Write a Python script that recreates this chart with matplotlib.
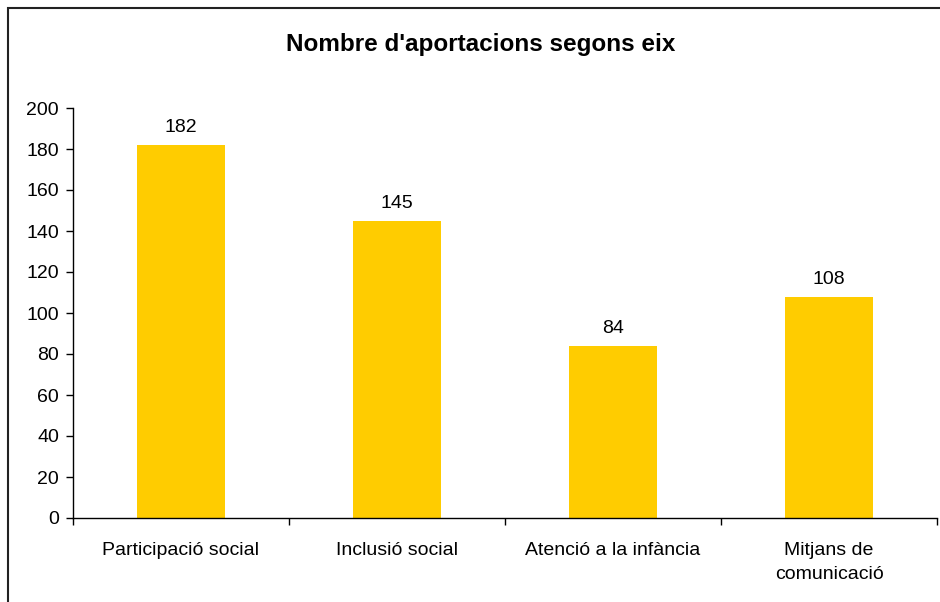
import matplotlib.pyplot as plt
from matplotlib.patches import Rectangle

# dades
categories = ["Participació social", "Inclusió social", "Atenció a la infància", "Mitjans de\ncomunicació"]
values = [182, 145, 84, 108]
title = "Nombre d'aportacions segons eix"

plt.rcParams['font.family'] = ['Liberation Sans', 'DejaVu Sans']

fig = plt.figure(figsize=(9.4, 6.02), dpi=100)
W, H = 940, 602

# marc exterior (retallat a la dreta i a baix)
fig.patches.append(Rectangle((8 / W, -0.05), 1.2, 1 - 8 / H + 0.05,
                             transform=fig.transFigure, fill=False,
                             edgecolor='#222222', linewidth=1.5))

ax = fig.add_axes([73 / W, 1 - 518 / H, (937 - 73) / W, (518 - 108) / H])

x = list(range(len(categories)))
bars = ax.bar(x, values, width=0.41, color='#FFCC00', edgecolor='none')

for xi, v in zip(x, values):
    ax.annotate(f'{v}', xy=(xi, v), xytext=(0, 6.5), textcoords='offset points',
                ha='center', va='bottom', fontsize=14)

ax.set_xlim(-0.5, len(categories) - 0.5)
ax.set_ylim(0, 200)
ax.set_yticks(range(0, 201, 20))

# marques de l'eix x als límits entre categories
ax.set_xticks([i - 0.5 for i in range(len(categories) + 1)])
ax.set_xticklabels([])
ax.set_xticks(x, minor=True)
ax.set_xticklabels(categories, minor=True, fontsize=14, linespacing=1.55)
ax.tick_params(axis='x', which='minor', length=0, pad=17)
ax.tick_params(axis='x', which='major', length=5, direction='out', width=1)
ax.tick_params(axis='y', length=5, direction='out', width=1, labelsize=14, pad=5)

for s in ['top', 'right']:
    ax.spines[s].set_visible(False)
for s in ['left', 'bottom']:
    ax.spines[s].set_linewidth(1)

fig.text((281 + 680) / 2 / W, 1 - 45 / H, title, ha='center', va='center',
         fontsize=17.5, fontweight='bold')

fig.savefig('out.png', dpi=100)
